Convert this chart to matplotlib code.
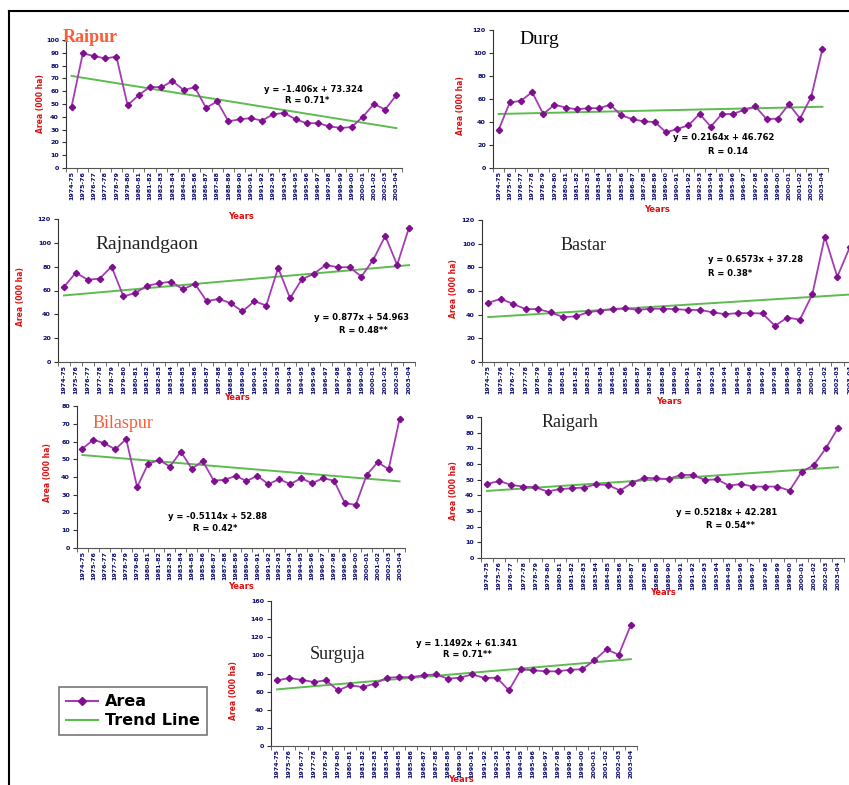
import matplotlib
matplotlib.use("Agg")
import matplotlib.pyplot as plt
import numpy as np
from matplotlib.lines import Line2D

# ---------------- data ----------------
years = [f"{y}-{str(y + 1)[-2:]}" for y in range(1974, 2004)]

raipur = [48, 89.5, 87.5, 85.6, 87, 49, 57, 63.4, 63, 68, 61, 63, 47, 52, 36.5,
          38, 39, 37, 42, 43, 38, 35, 35, 32.6, 31.3, 32, 40, 50, 45.7, 57]
durg = [33, 57, 58.4, 66, 47, 55, 52.6, 51, 52, 52, 55, 45.7, 42.5, 40.5, 40,
        31, 34, 37, 47, 36, 47, 47, 50.6, 53.5, 42.5, 43, 55.5, 43, 62, 103.5]
rajnandgaon = [63, 75, 69, 70, 80, 55, 58, 64, 66, 67.5, 61, 65.6, 51, 53, 49.4,
               42.4, 51, 47.4, 79, 53.6, 69.5, 74, 81.5, 79.5, 79.5, 71.7, 86, 105.8, 81.5, 112.8]
bastar = [50, 53.4, 49, 44.7, 44.7, 41.9, 38, 38.5, 42, 43.5, 44.7, 45.5, 44, 45, 45,
          44.7, 44, 44, 42, 40.4, 41.3, 41.3, 41, 30.6, 37.6, 35.7, 57.3, 106, 72, 97]
bilaspur = [56, 61, 59, 55.6, 61.4, 34.3, 47.4, 49.6, 45.9, 54.3, 44.6, 49, 38, 38.4, 40.6,
            37.8, 40.6, 36, 38.8, 36, 39.3, 36.5, 39.3, 38, 25.3, 24.3, 41.2, 48.3, 44.4, 72.5]
raigarh = [47.2, 49.2, 46.6, 45.6, 45.1, 42.4, 44, 44.5, 45, 47, 46.6, 43, 48, 51.3, 50.8,
           50.4, 53, 53, 49.8, 50.2, 46.2, 47.2, 45.6, 45.6, 45.6, 43, 55, 59.3, 70, 83]
surguja = [72.4, 75, 73, 70.6, 72.4, 61.4, 67, 65, 68.8, 75.4, 76, 76, 78, 79, 74.3,
           75.4, 79, 75, 75.4, 61.4, 84.6, 83.5, 82.4, 82.4, 84.2, 84.6, 94.5, 106.6, 100.7, 133.8]

districts = ["Raipur", "Durg", "Rajnandgaon", "Bastar", "Bilaspur", "Raigarh", "Surguja"]
series = [raipur, durg, rajnandgaon, bastar, bilaspur, raigarh, surguja]
slopes = [-1.406, 0.2164, 0.877, 0.6573, -0.5114, 0.5218, 1.1492]
intercepts = [73.324, 46.762, 54.963, 37.28, 52.88, 42.281, 61.341]
eq_texts = ["y = -1.406x + 73.324", "y = 0.2164x + 46.762", "y = 0.877x + 54.963",
            "y = 0.6573x + 37.28", "y = -0.5114x + 52.88", "y = 0.5218x + 42.281",
            "y = 1.1492x + 61.341"]
r_texts = ["R = 0.71*", "R = 0.14", "R = 0.48**", "R = 0.38*", "R = 0.42*",
           "R = 0.54**", "R = 0.71**"]
ymax = [100, 120, 120, 120, 80, 90, 160]
ystep = [10, 20, 20, 20, 10, 10, 20]

# ---------------- layout / style ----------------
W, H = 849, 785
# pixel boxes (x0, x1, ytop, ybottom)
boxes = [(66, 402, 40, 168), (493, 828, 30, 168), (58, 415, 219, 362),
         (482, 856, 220, 362), (77, 405, 406, 548), (481, 844, 417, 558),
         (271, 637, 601, 746)]
title_cfg = [  # x, y (axes fraction), color, size, weight
    (-0.01, 1.016, "#FF5A36", 13, "bold"),
    (0.08, 0.93, "black", 14, "normal"),
    (0.104, 0.82, "#222222", 14, "normal"),
    (0.21, 0.82, "#222222", 13, "normal"),
    (0.046, 0.88, "#FF5A36", 13, "normal"),
    (0.168, 0.96, "#222222", 13, "normal"),
    (0.107, 0.63, "#222222", 13, "normal"),
]
eq_pos = [((0.735, 0.61), (0.717, 0.53), "center"),
          ((0.69, 0.22), (0.70, 0.12), "center"),
          ((0.85, 0.31), (0.855, 0.22), "center"),
          ((0.604, 0.72), (0.604, 0.62), "left"),
          ((0.427, 0.22), (0.42, 0.14), "center"),
          ((0.678, 0.32), (0.686, 0.23), "center"),
          ((0.535, 0.71), (0.538, 0.63), "center")]
ylab_pos = [(-0.0625, 0.5), (-0.084, 0.45), (-0.092, 0.46), (-0.064, 0.52),
            (-0.076, 0.53), (-0.063, 0.48), (-0.09, 0.38)]
xlab_pos = [(0.52, -0.34), (0.49, -0.27), (0.5, -0.22), (0.5, -0.25),
            (0.5, -0.24), (0.5, -0.21), (0.52, -0.2)]

line_color = "#A43CB4"
marker_color = "#7F0F8F"
trend_color = "#5DBB4F"
navy = "#0A0A6E"

fig = plt.figure(figsize=(W / 100, H / 100), dpi=100)
fig.patch.set_facecolor("white")

# border lines (top and left)
fig.add_artist(Line2D([9 / W, 1], [1 - 11 / H, 1 - 11 / H], color="black", lw=1.5))
fig.add_artist(Line2D([9 / W, 9 / W], [1 - 11 / H, 0], color="black", lw=1.5))

x = np.arange(1, len(years) + 1)
for i, name in enumerate(districts):
    x0, x1, yt, yb = boxes[i]
    ax = fig.add_axes([x0 / W, 1 - yb / H, (x1 - x0) / W, (yb - yt) / H])
    vals = series[i]
    ax.plot(x, vals, color=line_color, lw=1.3, marker="D", ms=3.2,
            mfc=marker_color, mec=marker_color, zorder=3)
    trend = slopes[i] * x + intercepts[i]
    ax.plot(x, trend, color=trend_color, lw=1.4, zorder=2)

    ax.set_xlim(0.5, len(years) + 0.5)
    ax.set_ylim(0, ymax[i])
    ax.set_yticks(np.arange(0, ymax[i] + 1, ystep[i]))
    ax.set_xticks(x)
    ax.set_xticklabels(years, rotation=90, fontsize=4.6, color=navy,
                       fontweight="bold")
    ax.set_xticks(np.arange(0.5, len(years) + 1, 1), minor=True)
    ax.tick_params(axis="x", which="major", length=0, pad=2)
    ax.tick_params(axis="x", which="minor", length=3, color="#555555")
    ax.tick_params(axis="y", labelsize=4.6, labelcolor=navy, length=3,
                   color="#333333", pad=2)
    for lab in ax.get_yticklabels():
        lab.set_fontweight("bold")
    for s in ["top", "right"]:
        ax.spines[s].set_visible(False)
    ax.spines["left"].set_color("#333333")
    ax.spines["bottom"].set_color("#555555")
    ax.patch.set_alpha(0)

    ax.set_ylabel("Area (000 ha)", color="#E01010", fontsize=5.5,
                  fontweight="bold")
    ax.yaxis.set_label_coords(*ylab_pos[i])
    ax.set_xlabel("Years", color="#E01010", fontsize=6, fontweight="bold")
    ax.xaxis.set_label_coords(*xlab_pos[i])

    tx, ty, tc, ts, tw = title_cfg[i]
    ax.text(tx, ty, name, transform=ax.transAxes, ha="left", va="center",
            color=tc, fontsize=ts, fontweight=tw, family="Liberation Serif",
            clip_on=False)
    (ex, ey), (rx, ry), ha = eq_pos[i]
    ax.text(ex, ey, eq_texts[i], transform=ax.transAxes, ha=ha, va="center",
            fontsize=6, fontweight="bold", color="black")
    ax.text(rx, ry, r_texts[i], transform=ax.transAxes, ha=ha, va="center",
            fontsize=6, fontweight="bold", color="black")

handles = [Line2D([0], [0], color=line_color, lw=1.5, marker="D", ms=4,
                  mfc=marker_color, mec=marker_color),
           Line2D([0], [0], color=trend_color, lw=1.5)]
leg = fig.legend(handles, ["Area", "Trend Line"], loc="upper left",
                 bbox_to_anchor=(59 / W, 1 - 687 / H), borderaxespad=0,
                 frameon=True, fancybox=False,
                 prop={"weight": "bold", "size": 11.5}, handlelength=2.0,
                 handletextpad=0.4, borderpad=0.45, labelspacing=0.25)
leg.get_frame().set_edgecolor("#555555")
leg.get_frame().set_linewidth(1.2)

fig.savefig("out.png", dpi=100, facecolor="white")
